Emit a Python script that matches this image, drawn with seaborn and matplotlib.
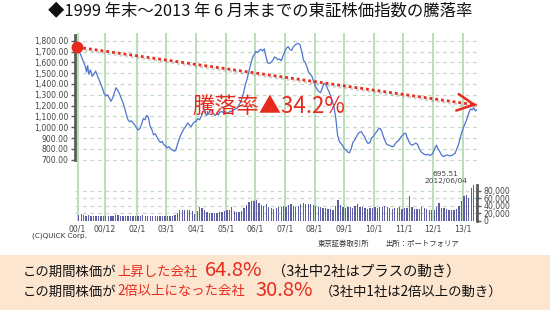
import numpy as np
import pandas as pd
import matplotlib
matplotlib.use('Agg')
import matplotlib.pyplot as plt
import matplotlib.patheffects as pe
from matplotlib.patches import Rectangle
import seaborn as sns

sns.set_theme(style='white')
plt.rcParams['font.family'] = ['Noto Sans CJK JP', 'DejaVu Sans']

# ---------------- data ----------------
title = '◆1999 年末～2013 年 6 月末までの東証株価指数の騰落率'

price_dates = [
 '1999-12-30','2000-01-14','2000-02-04','2000-02-25','2000-03-17','2000-04-07','2000-04-21','2000-05-05','2000-05-19','2000-06-09',
 '2000-06-30','2000-07-21','2000-08-11','2000-09-01','2000-09-22','2000-10-13','2000-11-03','2000-11-24','2000-12-15','2001-01-05',
 '2001-01-26','2001-02-16','2001-03-09','2001-03-30','2001-04-20','2001-05-11','2001-06-01','2001-06-22','2001-07-13','2001-08-03',
 '2001-08-24','2001-09-14','2001-10-05','2001-10-26','2001-11-16','2001-12-07','2001-12-28','2002-01-18','2002-02-08','2002-03-01',
 '2002-03-22','2002-04-12','2002-05-03','2002-05-24','2002-06-14','2002-07-05','2002-07-26','2002-08-16','2002-09-06','2002-09-27',
 '2002-10-18','2002-11-08','2002-11-29','2002-12-20','2003-01-10','2003-01-31','2003-02-21','2003-03-14','2003-04-04','2003-04-25',
 '2003-05-16','2003-06-06','2003-06-27','2003-07-18','2003-08-08','2003-08-29','2003-09-19','2003-10-10','2003-10-31','2003-11-21',
 '2003-12-12','2004-01-02','2004-01-23','2004-02-13','2004-03-05','2004-03-26','2004-04-16','2004-05-07','2004-05-28','2004-06-18',
 '2004-07-09','2004-07-30','2004-08-20','2004-09-10','2004-10-01','2004-10-22','2004-11-12','2004-12-03','2004-12-24','2005-01-14',
 '2005-02-04','2005-02-25','2005-03-18','2005-04-08','2005-04-29','2005-05-20','2005-06-10','2005-07-01','2005-07-22','2005-08-12',
 '2005-09-02','2005-09-23','2005-10-14','2005-11-04','2005-11-25','2005-12-16','2006-01-06','2006-01-27','2006-02-17','2006-03-10',
 '2006-03-31','2006-04-21','2006-05-12','2006-06-02','2006-06-23','2006-07-14','2006-08-04','2006-08-25','2006-09-15','2006-10-06',
 '2006-10-27','2006-11-17','2006-12-08','2006-12-29','2007-01-19','2007-02-09','2007-03-02','2007-03-23','2007-04-13','2007-05-04',
 '2007-05-25','2007-06-15','2007-07-06','2007-07-27','2007-08-17','2007-09-07','2007-09-28','2007-10-19','2007-11-09','2007-11-30',
 '2007-12-21','2008-01-11','2008-02-01','2008-02-22','2008-03-14','2008-04-04','2008-04-25','2008-05-16','2008-06-06','2008-06-27',
 '2008-07-18','2008-08-08','2008-08-29','2008-09-19','2008-10-10','2008-10-31','2008-11-21','2008-12-12','2009-01-02','2009-01-23',
 '2009-02-13','2009-03-06','2009-03-27','2009-04-17','2009-05-08','2009-05-29','2009-06-19','2009-07-10','2009-07-31','2009-08-21',
 '2009-09-11','2009-10-02','2009-10-23','2009-11-13','2009-12-04','2009-12-25','2010-01-15','2010-02-05','2010-02-26','2010-03-19',
 '2010-04-09','2010-04-30','2010-05-21','2010-06-11','2010-07-02','2010-07-23','2010-08-13','2010-09-03','2010-09-24','2010-10-15',
 '2010-11-05','2010-11-26','2010-12-17','2011-01-07','2011-01-28','2011-02-18','2011-03-11','2011-04-01','2011-04-22','2011-05-13',
 '2011-06-03','2011-06-24','2011-07-15','2011-08-05','2011-08-26','2011-09-16','2011-10-07','2011-10-28','2011-11-18','2011-12-09',
 '2011-12-30','2012-01-20','2012-02-10','2012-03-02','2012-03-23','2012-04-13','2012-05-04','2012-05-25','2012-06-15','2012-07-06',
 '2012-07-27','2012-08-17','2012-09-07','2012-09-28','2012-10-19','2012-11-09','2012-11-30','2012-12-21','2013-01-11','2013-02-01',
 '2013-02-22','2013-03-15','2013-04-05','2013-04-26','2013-05-17','2013-06-07','2013-06-21']
price_values = [
 1740,1700,1680,1640,1600,1560,1510,1570,1490,1530,
 1470,1490,1520,1480,1440,1400,1360,1310,1290,1300,
 1270,1240,1270,1320,1365,1340,1310,1270,1230,1180,
 1120,1070,1050,1060,1040,1020,995,975,990,1030,
 1080,1070,1110,1090,1010,980,930,940,910,880,
 860,870,840,830,810,820,800,790,780,785,
 840,890,930,960,990,1010,1040,1020,1005,1030,
 1050,1055,1080,1070,1100,1140,1160,1110,1120,1150,
 1160,1130,1110,1120,1115,1140,1145,1135,1145,1130,
 1135,1150,1145,1160,1170,1175,1200,1230,1270,1330,
 1400,1450,1520,1580,1640,1670,1700,1690,1710,1720,
 1705,1725,1650,1595,1590,1600,1620,1650,1640,1625,
 1630,1615,1660,1700,1730,1745,1720,1710,1740,1760,
 1770,1775,1760,1700,1620,1600,1560,1510,1490,1470,
 1420,1380,1350,1330,1320,1360,1405,1400,1360,1330,
 1280,1240,1180,1080,930,870,850,830,800,790,
 770,765,800,860,880,910,940,955,960,930,
 910,870,850,860,900,915,940,960,985,990,
 960,910,870,840,835,830,820,825,850,870,
 880,905,925,940,945,900,865,840,835,845,
 855,840,800,775,760,750,745,750,740,745,
 760,800,835,800,775,745,730,735,745,740,
 735,740,750,760,800,840,900,960,1000,1040,
 1080,1130,1170,1160,1180,1150,1160]

vol_2000 = [16, 18, 15, 14, 16, 13, 14, 12, 13, 12, 13, 12]
vol_2001 = [12, 13, 14, 16, 17, 14, 13, 12, 14, 13, 12, 13]
vol_2002 = [13, 14, 15, 13, 14, 12, 13, 12, 14, 13, 13, 12]
vol_2003 = [14, 13, 14, 15, 22, 29, 29, 28, 30, 29, 26, 18]
vol_2004 = [26, 36, 35, 28, 25, 22, 21, 20, 22, 24, 25, 26]
vol_2005 = [28, 30, 36, 26, 24, 25, 27, 34, 43, 50, 53, 54]
vol_2006 = [55, 48, 42, 40, 45, 38, 35, 33, 35, 36, 38, 40]
vol_2007 = [38, 42, 45, 40, 38, 40, 44, 48, 45, 44, 46, 42]
vol_2008 = [40, 36, 38, 34, 35, 32, 33, 30, 40, 56, 42, 36]
vol_2009 = [34, 36, 38, 35, 40, 45, 38, 36, 34, 33, 35, 34]
vol_2010 = [36, 35, 38, 37, 40, 36, 34, 32, 35, 34, 36, 33]
vol_2011 = [35, 34, 67, 38, 33, 31, 32, 36, 34, 31, 30, 28]
vol_2012 = [29, 36, 47, 34, 35, 32, 30, 28, 30, 31, 40, 52]
vol_2013 = [67, 70, 62, 87, 96, 63]

x_tick_dates = ['2000-01-01','2000-12-01','2002-01-01','2003-01-01','2004-01-01','2005-01-01','2006-01-01',
                '2007-01-01','2008-01-01','2009-01-01','2010-01-01','2011-01-01','2012-01-01','2013-01-01']
x_tick_labels = ['00/1','00/12','02/1','03/1','04/1','05/1','06/1','07/1','08/1','09/1','10/1','11/1','12/1','13/1']
price_ticks = [700, 800, 900, 1000, 1100, 1200, 1300, 1400, 1500, 1600, 1700, 1800]
vol_ticks = [0, 20000, 40000, 60000, 80000]

change_label = '騰落率▲34.2%'
arrow_start = ('1999-12-30', 1740)
arrow_end = ('2013-06-22', 1205)
low_value = '695.51'
low_date = '2012/06/04'

# ---------------- build ----------------
price_df = pd.DataFrame({'date': pd.to_datetime(price_dates), 'value': price_values})
vol_all = (vol_2000 + vol_2001 + vol_2002 + vol_2003 + vol_2004 + vol_2005 + vol_2006 +
           vol_2007 + vol_2008 + vol_2009 + vol_2010 + vol_2011 + vol_2012 + vol_2013)
vol_dates = pd.date_range('2000-01-01', periods=len(vol_all), freq='MS') + pd.Timedelta(days=14)
vol_df = pd.DataFrame({'date': vol_dates, 'volume': np.array(vol_all) * 1000})

W, H = 550, 310
def fx(px): return px / W
def fy(py): return 1 - py / H

RED = '#E62B1E'
GREEN_V = '#b4dcb4'
GRID = '#c3dbc3'
AX_GRAY = '#5a5a5a'
TXT = '#444444'

fig = plt.figure(figsize=(5.5, 3.1), dpi=100)
fig.patch.set_facecolor('white')
fig.patches.append(Rectangle((0, 0), 1, fy(255), transform=fig.transFigure,
                             facecolor='#FDE6CF', edgecolor='none', zorder=0))

ax = fig.add_axes([fx(75), fy(221), fx(477) - fx(75), fy(33) - fy(221)])
ax.set_facecolor('none')
ax2 = ax.twinx()
ax2.set_facecolor('none')

xmin, xmax = pd.Timestamp('1999-12-01'), pd.Timestamp('2013-06-25')

# vertical green lines
for d in x_tick_dates:
    ax.axvline(pd.Timestamp(d), color=GREEN_V, lw=1.3, zorder=0)

# price line
sns.lineplot(data=price_df, x='date', y='value', ax=ax, color='#4f74cf', lw=0.9, zorder=3)

# volume bars
ax2.bar(vol_df['date'], vol_df['volume'], width=16, color='#5e5ea6', edgecolor='none', zorder=2)

ax.set_xlim(xmin, xmax)
ax.set_ylim(134, 1871)
ax2.set_ylim(0, 501333)

# axis styling
for s in ['top', 'right', 'bottom']:
    ax.spines[s].set_visible(False)
for s in ['top', 'left', 'bottom']:
    ax2.spines[s].set_visible(False)
ax.spines['left'].set_color(AX_GRAY)
ax.spines['left'].set_linewidth(2)
ax.spines['left'].set_bounds(697, 1853)
ax2.spines['right'].set_color(AX_GRAY)
ax2.spines['right'].set_linewidth(2)
ax2.spines['right'].set_bounds(0, 96000)

ax.set_yticks(price_ticks)
ax.set_yticklabels([f'{v:,.2f}' for v in price_ticks], fontsize=5.6, color=TXT, family='DejaVu Sans')
ax.tick_params(axis='y', direction='out', length=3, width=1, color=AX_GRAY, pad=1.5, left=True)
ax.yaxis.grid(True, ls=(0, (3, 3)), color=GRID, lw=0.9)
ax.xaxis.grid(False)

ax2.set_yticks(vol_ticks)
ax2.set_yticklabels([f'{v:,}' for v in vol_ticks], fontsize=5.6, color=TXT, family='DejaVu Sans')
ax2.tick_params(axis='y', direction='out', length=3, width=1, color=AX_GRAY, pad=1.5, right=True)
ax2.yaxis.grid(True, ls=(0, (3, 3)), color=GRID, lw=0.9)
ax2.xaxis.grid(False)

ax.set_xticks([pd.Timestamp(d) for d in x_tick_dates])
ax.set_xticklabels(x_tick_labels, fontsize=5.6, color=TXT, family='DejaVu Sans')
ax.tick_params(axis='x', length=0, pad=2.5)
ax.set_xlabel('')
ax.set_ylabel('')
ax2.set_ylabel('')

# dotted red trend arrow
xs = [pd.Timestamp(arrow_start[0]), pd.Timestamp(arrow_end[0])]
ys = [arrow_start[1], arrow_end[1]]
ax.plot(xs, ys, color=RED, lw=2.0, ls=(0, (1, 1.1)), zorder=5,
        path_effects=[pe.SimpleLineShadow(offset=(1.2, -1.5), shadow_color='#888888', alpha=0.35), pe.Normal()])
pre = pd.Timestamp(arrow_end[0]) - pd.Timedelta(days=40)
pre_y = arrow_end[1] + (arrow_start[1] - arrow_end[1]) * 40 / (xs[1] - xs[0]).days
ax.annotate('', xy=(xs[1], ys[1]), xytext=(pre, pre_y),
            arrowprops=dict(arrowstyle='->,head_length=1.0,head_width=0.5', color=RED, lw=1.8,
                            shrinkA=0, shrinkB=0), zorder=6)
ax.plot([xs[0]], [ys[0]], marker='o', ms=7.5, color=RED, zorder=7, clip_on=False)

ax.text(pd.Timestamp('2003-11-20'), 1190, change_label, color=RED, fontsize=16, va='center', ha='left', zorder=6)

ax.text(pd.Timestamp('2012-06-04'), 565, low_value, fontsize=5.4, color=TXT, ha='center', va='center', family='DejaVu Sans')
ax.text(pd.Timestamp('2012-06-04'), 505, low_date, fontsize=5.4, color=TXT, ha='center', va='center', family='DejaVu Sans')

# title & footer texts
fig.text(fx(48), fy(11.5), title, fontsize=11.8, ha='left', va='center', color='#111111')
fig.text(fx(32), fy(236), '(C)QUICK Corp.', fontsize=5.2, ha='left', va='center', color='#333333', family='DejaVu Sans')
fig.text(fx(318), fy(244), '東京証券取引所', fontsize=5.3, ha='left', va='center', color='#333333')
fig.text(fx(385), fy(244), '出所：ポートフォリア', fontsize=5.3, ha='left', va='center', color='#333333')

fs = 9.6
big = 14.5
b1, b2 = 275.5, 295.5
fig.text(fx(23), fy(b1), 'この期間株価が', fontsize=fs, ha='left', va='baseline', color='#111111')
fig.text(fx(117), fy(b1), '上昇した会社', fontsize=fs, ha='left', va='baseline', color=RED)
fig.text(fx(205), fy(b1), '64.8%', fontsize=big, ha='left', va='baseline', color=RED)
fig.text(fx(272), fy(b1), '（3社中2社はプラスの動き）', fontsize=10.4, ha='left', va='baseline', color='#111111')

fig.text(fx(23), fy(b2), 'この期間株価が', fontsize=fs, ha='left', va='baseline', color='#111111')
fig.text(fx(117), fy(b2), '2倍以上になった会社', fontsize=fs, ha='left', va='baseline', color=RED)
fig.text(fx(255), fy(b2), '30.8%', fontsize=big, ha='left', va='baseline', color=RED)
fig.text(fx(320), fy(b2), '（3社中1社は2倍以上の動き）', fontsize=fs, ha='left', va='baseline', color='#111111')

fig.savefig('out.png', dpi=100, facecolor='white')
